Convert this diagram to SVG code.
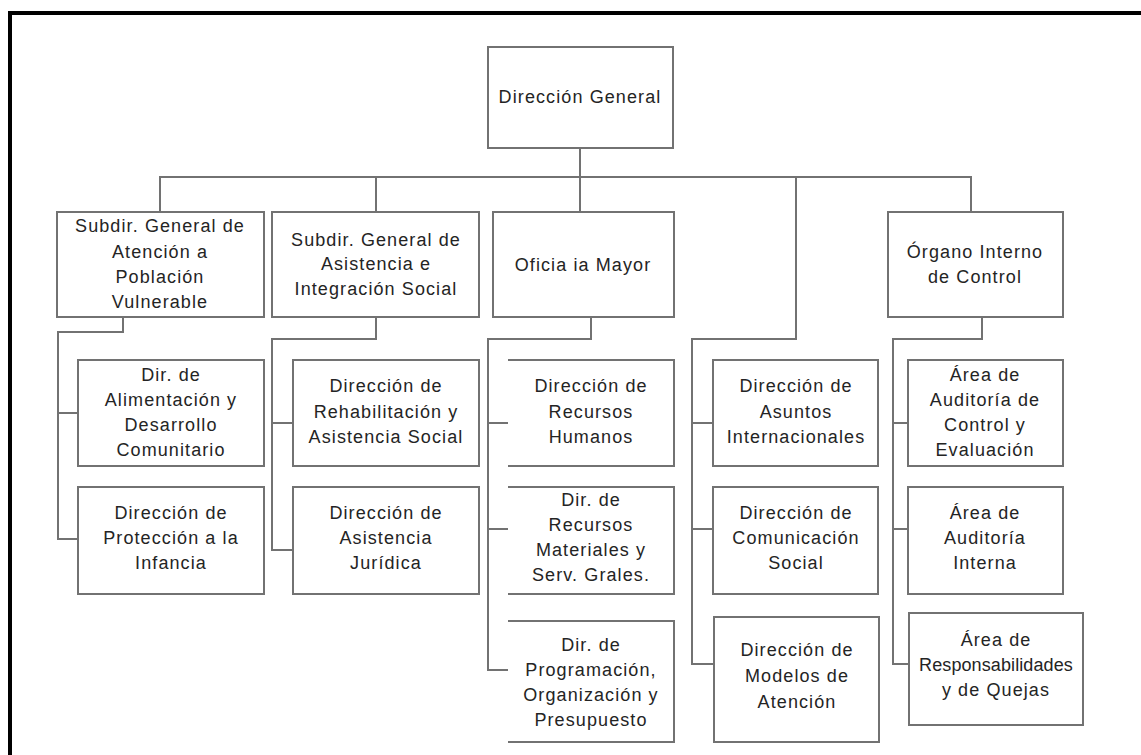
<svg xmlns="http://www.w3.org/2000/svg" width="1141" height="755" viewBox="0 0 1141 755">
<style>
.bx{fill:#fff;stroke:#727272;stroke-width:2}
.cn{fill:none;stroke:#727272;stroke-width:2}
.t{font-family:"Liberation Sans",Arial,sans-serif;font-size:18px;letter-spacing:1.1px;fill:#242424;text-anchor:middle}
.n{letter-spacing:0.1px}
</style>
<rect x="0" y="0" width="1141" height="755" fill="#fff"/>
<rect x="10" y="13" width="1200" height="800" fill="none" stroke="#000" stroke-width="4"/>
<g id="connectors">
<path class="cn" d="M580,148 V212"/>
<path class="cn" d="M160,212 V177 H971 V212"/>
<path class="cn" d="M376,177 V212"/>
<path class="cn" d="M796,177 V339 H692 V664 H714 M692,423 H713 M692,529 H713"/>
<path class="cn" d="M123,317 V332 H58 V539 H78 M58,413 H78"/>
<path class="cn" d="M376,317 V339 H272 V550 H293 M272,423 H293"/>
<path class="cn" d="M591,317 V339 H488 V670 H508 M488,423 H508 M488,529 H508"/>
<path class="cn" d="M982,317 V339 H893 V664 H909 M893,423 H908 M893,529 H908"/>
</g>
<g id="dg"><rect class="bx" x="488" y="47" width="185" height="101"/><text class="t" x="580" y="103">Dirección General</text></g>
<g id="s1"><rect class="bx" x="57" y="212" width="207" height="105"/><text class="t" x="160" y="232">Subdir. General de</text><text class="t" x="160" y="258">Atención a</text><text class="t" x="160" y="283">Población</text><text class="t" x="160" y="308">Vulnerable</text></g>
<g id="s2"><rect class="bx" x="272" y="212" width="207" height="105"/><text class="t" x="376" y="246">Subdir. General de</text><text class="t" x="376" y="270">Asistencia  e</text><text class="t" x="376" y="295">Integración Social</text></g>
<g id="om"><rect class="bx" x="493" y="212" width="181" height="105"/><text class="t" x="583" y="271">Oficia ia Mayor</text></g>
<g id="oic"><rect class="bx" x="888" y="212" width="175" height="105"/><text class="t" x="975" y="258">Órgano Interno</text><text class="t" x="975" y="283">de Control</text></g>
<g id="c1r1"><rect class="bx" x="78" y="360" width="186" height="106"/><text class="t" x="171" y="381">Dir. de</text><text class="t" x="171" y="406">Alimentación y</text><text class="t" x="171" y="431">Desarrollo</text><text class="t" x="171" y="456">Comunitario</text></g>
<g id="c1r2"><rect class="bx" x="78" y="487" width="186" height="107"/><text class="t" x="171" y="519">Dirección de</text><text class="t" x="171" y="544">Protección a la</text><text class="t" x="171" y="569">Infancia</text></g>
<g id="c2r1"><rect class="bx" x="293" y="360" width="186" height="106"/><text class="t" x="386" y="392">Dirección de</text><text class="t" x="386" y="418">Rehabilitación  y</text><text class="t" x="386" y="443">Asistencia Social</text></g>
<g id="c2r2"><rect class="bx" x="293" y="487" width="186" height="107"/><text class="t" x="386" y="519">Dirección de</text><text class="t" x="386" y="544">Asistencia</text><text class="t" x="386" y="569">Jurídica</text></g>
<g id="c3r1"><path class="bx" d="M508,360 H674 V466 H508"/><text class="t" x="591" y="392">Dirección de</text><text class="t" x="591" y="418">Recursos</text><text class="t" x="591" y="443">Humanos</text></g>
<g id="c3r2"><path class="bx" d="M508,487 H674 V594 H508"/><text class="t" x="591" y="506">Dir. de</text><text class="t" x="591" y="531">Recursos</text><text class="t" x="591" y="556">Materiales y</text><text class="t" x="591" y="581">Serv. Grales.</text></g>
<g id="c3r3"><path class="bx" d="M508,621 H674 V742 H508"/><text class="t" x="591" y="651">Dir. de</text><text class="t" x="591" y="676">Programación,</text><text class="t" x="591" y="701">Organización y</text><text class="t" x="591" y="726">Presupuesto</text></g>
<g id="c4r1"><rect class="bx" x="713" y="360" width="165" height="106"/><text class="t" x="796" y="392">Dirección de</text><text class="t" x="796" y="418">Asuntos</text><text class="t" x="796" y="443">Internacionales</text></g>
<g id="c4r2"><rect class="bx" x="713" y="487" width="165" height="107"/><text class="t" x="796" y="519">Dirección de</text><text class="t" x="796" y="544">Comunicación</text><text class="t" x="796" y="569">Social</text></g>
<g id="c4r3"><rect class="bx" x="714" y="617" width="165" height="125"/><text class="t" x="797" y="656">Dirección de</text><text class="t" x="797" y="682">Modelos de</text><text class="t" x="797" y="708">Atención</text></g>
<g id="c5r1"><rect class="bx" x="908" y="360" width="155" height="106"/><text class="t" x="985" y="381">Área de</text><text class="t" x="985" y="406">Auditoría de</text><text class="t" x="985" y="431">Control y</text><text class="t" x="985" y="456">Evaluación</text></g>
<g id="c5r2"><rect class="bx" x="908" y="487" width="155" height="107"/><text class="t" x="985" y="519">Área de</text><text class="t" x="985" y="544">Auditoría</text><text class="t" x="985" y="569">Interna</text></g>
<g id="c5r3"><rect class="bx" x="909" y="613" width="174" height="112"/><text class="t" x="996" y="646">Área de</text><text class="t n" x="996" y="671">Responsabilidades</text><text class="t" x="996" y="696">y de Quejas</text></g>
</svg>
